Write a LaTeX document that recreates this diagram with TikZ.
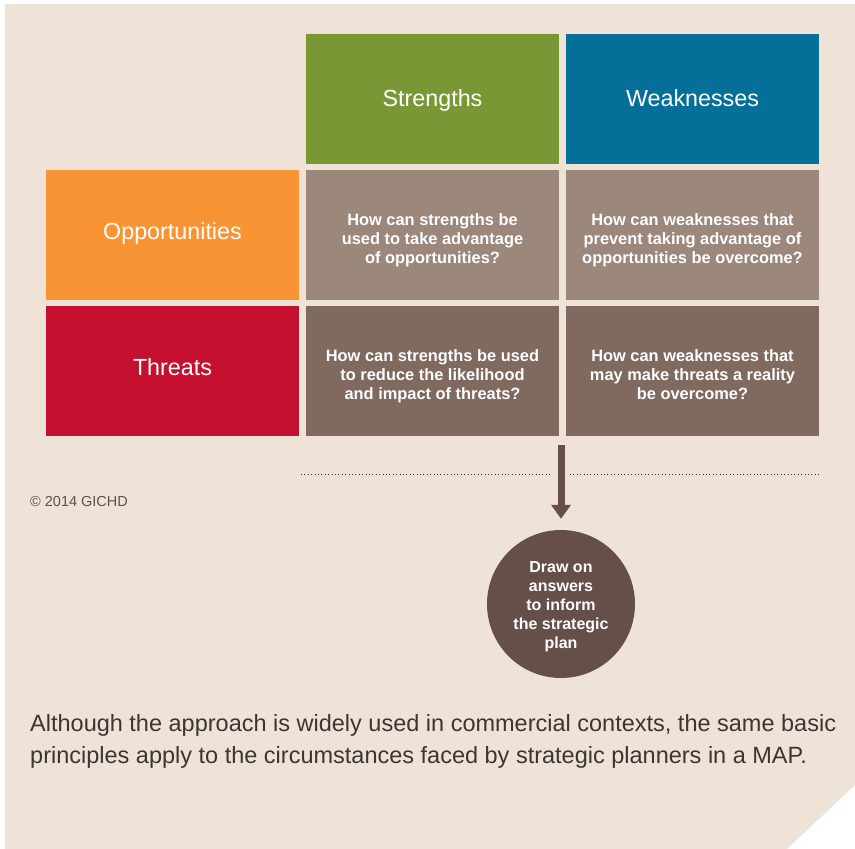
\documentclass[tikz,border=0pt]{standalone}
\usepackage{fontspec}
\setmainfont{Liberation Sans}
\usetikzlibrary{arrows.meta}
\definecolor{bgc}{HTML}{EFE2D6}
\definecolor{sgreen}{HTML}{7A9736}
\definecolor{wblue}{HTML}{04709A}
\definecolor{oorange}{HTML}{F89433}
\definecolor{tred}{HTML}{C5102F}
\definecolor{cellA}{HTML}{9C877B}
\definecolor{cellB}{HTML}{806A60}
\definecolor{circc}{HTML}{654F48}
\definecolor{bodyc}{HTML}{3B3633}
\definecolor{copyc}{HTML}{5A524D}
\tikzset{
  box/.style={minimum width=253pt, minimum height=130pt, inner sep=0pt, text=white, align=center},
  hdrtop/.style={box, font=\fontsize{23.3}{27}\selectfont, text height=16pt, text depth=2pt},
  hdrleft/.style={box, font=\fontsize{23.3}{27}\selectfont, text height=12pt, text depth=4pt},
  cell/.style={box, font=\fontsize{16.4}{19.2}\selectfont\bfseries, text height=60pt, text depth=3.2pt},
  circ/.style={circle, fill=circc, minimum size=148pt, inner sep=0pt, text=white, align=center, font=\fontsize{16}{19}\selectfont\bfseries, text height=92pt, text depth=3.4pt},
  arr/.style={draw=circc, line width=7pt, -{Triangle[width=19pt,length=14pt]}},
  dots/.style={draw=bodyc, line width=1pt, dash pattern=on 1pt off 2.4pt}
}
\begin{document}
\begin{tikzpicture}[x=1pt,y=-1pt]
\useasboundingbox (0,0) rectangle (855,849);
\fill[white] (0,0) rectangle (855,849);
\fill[bgc] (5,4) -- (855,4) -- (855,785) -- (787,849) -- (5,849) -- cycle;
% header row
\node[hdrtop, fill=sgreen] (S) at (432.5,99) {Strengths};
\node[hdrtop, fill=wblue] (W) at (692.5,99) {Weaknesses};
% left column
\node[hdrleft, fill=oorange] (O) at (172.5,235) {Opportunities};
\node[hdrleft, fill=tred] (T) at (172.5,371) {Threats};
% cells
\node[cell, fill=cellA] (SO) at (432.5,235) {How can strengths be\\used to take advantage\\of opportunities?};
\node[cell, fill=cellA] (WO) at (692.5,235) {How can weaknesses that\\prevent taking advantage of\\opportunities be overcome?};
\node[cell, fill=cellB] (ST) at (432.5,371) {How can strengths be used\\to reduce the likelihood\\and impact of threats?};
\node[cell, fill=cellB] (WT) at (692.5,371) {How can weaknesses that\\may make threats a reality\\be overcome?};
% dotted line
\coordinate (d1) at (301,474);
\coordinate (d2) at (551,474);
\coordinate (d3) at (570,474);
\coordinate (d4) at (819,474);
\draw[dots] (d1) -- (d2);
\draw[dots] (d3) -- (d4);
% circle and arrow
\node[circ] (C) at (561,604) {Draw on\\answers\\to inform\\the strategic\\plan};
\coordinate (atop) at (561,445);
\draw[arr, shorten >=11pt] (atop) -- (C.north);
% copyright
\node[anchor=base west, inner sep=0pt, text=copyc, font=\fontsize{14.5}{17}\selectfont] (cp) at (30,506) {\textcopyright{} 2014 GICHD};
% body text
\node[anchor=base west, inner sep=0pt, align=left, text=bodyc, font=\fontsize{23.5}{32}\selectfont] (body) at (30,763.3) {Although the approach is widely used in commercial contexts, the same basic\\principles apply to the circumstances faced by strategic planners in a MAP.};
\end{tikzpicture}
\end{document}
